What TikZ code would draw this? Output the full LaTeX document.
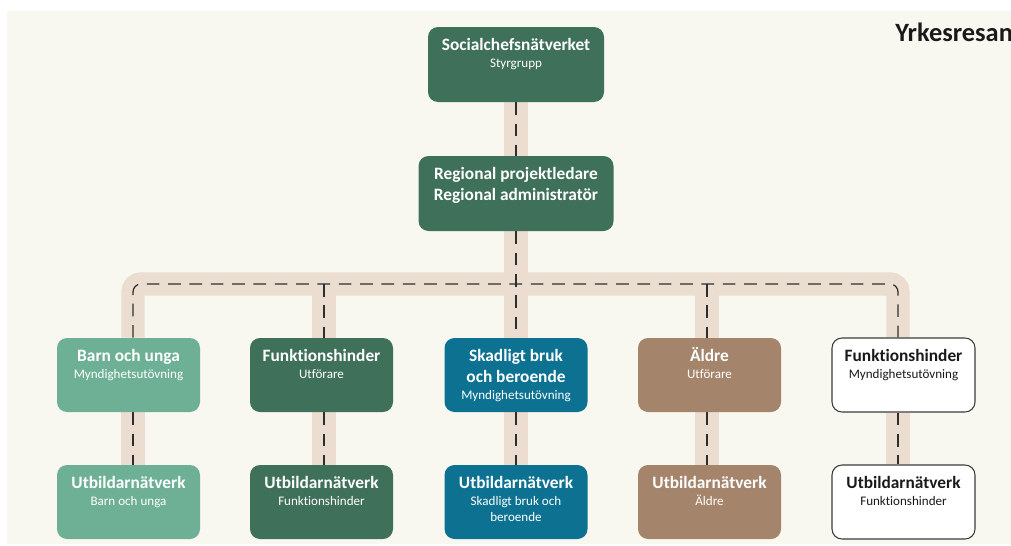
\documentclass[tikz,border=0pt]{standalone}
\usepackage{fontspec}
\setmainfont[Ligatures=NoCommon]{Carlito}
\usetikzlibrary{backgrounds}
\definecolor{creamc}{HTML}{F9F8F0}
\definecolor{railc}{HTML}{EBDDD0}
\definecolor{dkgreen}{HTML}{3F705A}
\definecolor{ltgreen}{HTML}{6DB096}
\definecolor{tealc}{HTML}{0D7192}
\definecolor{brownc}{HTML}{A4846B}
\definecolor{dashc}{HTML}{2E2E2E}
\definecolor{edgec}{HTML}{3C3C3C}
\definecolor{inkc}{HTML}{1A1A1A}
\newcommand\cardtext[4]{\parbox[c][#2][t]{#1}{\centering
  \fontsize{13}{15.75}\selectfont\bfseries\rule{0pt}{17.6pt}#3\par
  \fontsize{9.8}{12.4}\selectfont\mdseries #4\par}}
\begin{document}
\begin{tikzpicture}[x=0.75pt,y=-0.75pt,
  boxbase/.style={rounded corners=7.5pt, inner sep=0pt, text=white},
  whitecard/.style={boxbase, fill=white, draw=edgec, line width=0.8pt, text=inkc},
  band/.style={draw=railc, line width=17.5pt, rounded corners=6pt},
  dashln/.style={draw=dashc, line width=0.95pt, dash pattern=on 9.5pt off 6.5pt, rounded corners=6pt}]
\clip (0,0) rectangle (1011,546);
% boxes
\node[boxbase, fill=dkgreen] (top) at (516,64.5) {\cardtext{132pt}{56.25pt}{Socialchefsnätverket}{Styrgrupp}};
\node[boxbase, fill=dkgreen] (reg) at (516,193.5) {\cardtext{146.25pt}{56.25pt}{Regional projektledare\\Regional administratör}{}};
\node[boxbase, fill=ltgreen] (b1) at (128.5,375) {\cardtext{107.25pt}{55.5pt}{Barn och unga}{Myndighetsutövning}};
\node[boxbase, fill=dkgreen] (b2) at (321.5,375) {\cardtext{107.25pt}{55.5pt}{Funktionshinder}{Utförare}};
\node[boxbase, fill=tealc] (b3) at (516,375) {\cardtext{107.25pt}{55.5pt}{Skadligt bruk\\och beroende}{Myndighetsutövning}};
\node[boxbase, fill=brownc] (b4) at (709.5,375) {\cardtext{107.25pt}{55.5pt}{Äldre}{Utförare}};
\node[whitecard] (b5) at (903.5,375) {\cardtext{107.25pt}{55.5pt}{Funktionshinder}{Myndighetsutövning}};
\node[boxbase, fill=ltgreen] (u1) at (128.5,502) {\cardtext{107.25pt}{55.5pt}{Utbildarnätverk}{Barn och unga}};
\node[boxbase, fill=dkgreen] (u2) at (321.5,502) {\cardtext{107.25pt}{55.5pt}{Utbildarnätverk}{Funktionshinder}};
\node[boxbase, fill=tealc] (u3) at (516,502) {\cardtext{107.25pt}{55.5pt}{Utbildarnätverk}{Skadligt bruk och\\beroende}};
\node[boxbase, fill=brownc] (u4) at (709.5,502) {\cardtext{107.25pt}{55.5pt}{Utbildarnätverk}{Äldre}};
\node[whitecard] (u5) at (903.5,502) {\cardtext{107.25pt}{55.5pt}{Utbildarnätverk}{Funktionshinder}};
\node[anchor=base west, inner sep=0pt, text=inkc, font=\fontsize{19.8}{23}\selectfont\bfseries] (ttl) at (895,41) {Yrkesresan};
% rail junctions
\coordinate (j1) at (133,284);
\coordinate (j2) at (324,284);
\coordinate (j3) at (516,284);
\coordinate (j4) at (707,284);
\coordinate (j5) at (898,284);
\begin{pgfonlayer}{background}
\fill[white] (0,0) rectangle (1011,546);
\fill[creamc] (7,11) rectangle (1011,544);
% bands
\draw[band] (j1 |- b1.north) -- (j1) -- (j5) -- (j5 |- b5.north);
\draw[band] (top.south) -- (reg.north);
\draw[band] (reg.south) -- (b3.north);
\draw[band] (j2) -- (j2 |- b2.north);
\draw[band] (j4) -- (j4 |- b4.north);
\foreach \i in {1,...,5}{\draw[band] (j\i |- b\i.south) -- (j\i |- u\i.north);}
% dashes
\draw[dashln] (j1 |- b1.north) -- (j1) -- (j5) -- (j5 |- b5.north);
\draw[dashln] (top.south) -- (reg.north);
\draw[dashln] (reg.south) -- (b3.north);
\draw[dashln] (j2) -- (j2 |- b2.north);
\draw[dashln] (j4) -- (j4 |- b4.north);
\foreach \i in {1,...,5}{\draw[dashln] (j\i |- b\i.south) -- (j\i |- u\i.north);}
\end{pgfonlayer}
\end{tikzpicture}
\end{document}
